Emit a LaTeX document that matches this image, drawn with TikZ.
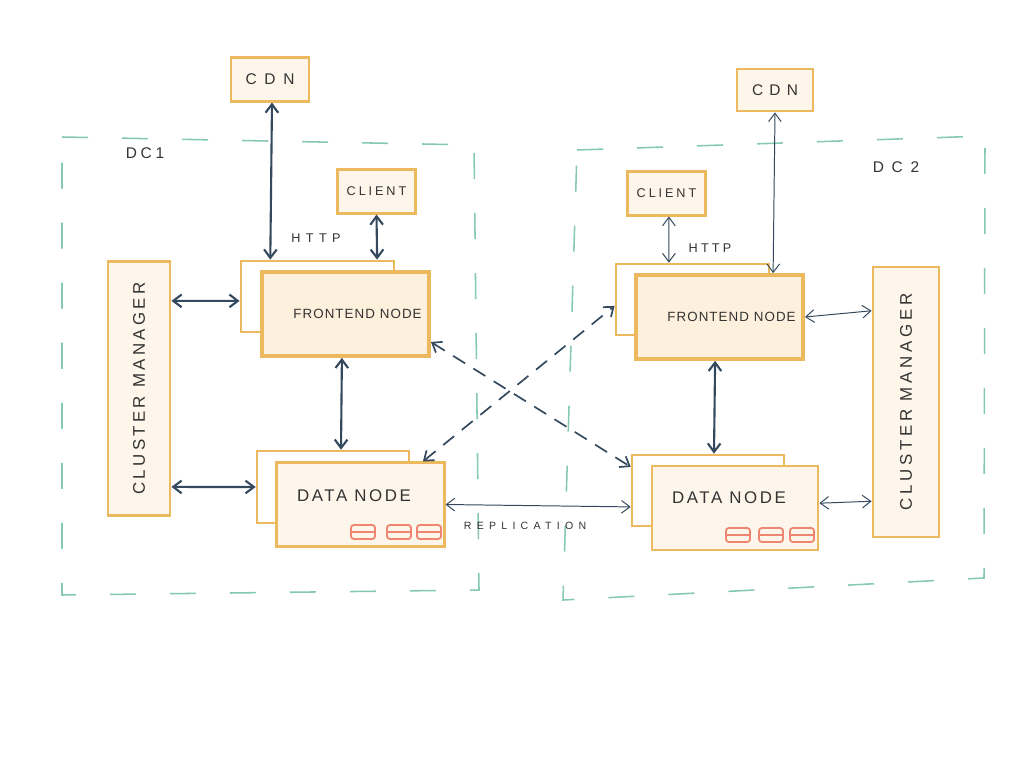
\documentclass[tikz,border=0pt]{standalone}
\usepackage{fontspec}
\setmainfont{Liberation Sans}
\usetikzlibrary{arrows.meta}
\definecolor{boxline}{HTML}{EDB95E}
\definecolor{boxfill}{HTML}{FEF6EA}
\definecolor{frontfill}{HTML}{FDF0DC}
\definecolor{dcline}{HTML}{84C8B5}
\definecolor{linkcol}{HTML}{34495E}
\definecolor{diskcol}{HTML}{EE8672}
\definecolor{labelcol}{HTML}{333333}
\newcommand{\spaced}[3]{{\fontsize{#1}{#1}\selectfont\addfontfeatures{LetterSpace=#2}#3}}
\tikzset{
    box/.style={draw=boxline, line width=2pt, fill=boxfill, text=labelcol, inner sep=0pt},
    backbox/.style={draw=boxline, line width=1.8pt, fill=white, inner sep=0pt},
    frontbox/.style={box, line width=2.6pt, fill=frontfill},
    databox/.style={box, fill=boxfill},
    dcarea/.style={draw=dcline, line width=1.1pt, dash pattern=on .65cm off .85cm},
    link/.style={draw=linkcol, line width=.7pt, {Straight Barb[length=6pt,width=9pt]}-{Straight Barb[length=6pt,width=9pt]}},
    thicklink/.style={link, line width=1.5pt},
    dashlink/.style={link, line width=1.2pt, dash pattern=on 10pt off 7pt},
    disk/.style={draw=diskcol, line width=1.3pt, rounded corners=2pt},
    caption/.style={text=labelcol},
}
\begin{document}
\begin{tikzpicture}[x=0.025cm, y=-0.025cm]
\useasboundingbox[fill=white] (0,0) rectangle (1024,768);

% data centres
\draw[dcarea] (62,137) -- (474,145) -- (479,590) -- (62,595) -- cycle;
\draw[dcarea] (577,150) -- (985,136) -- (984,578) -- (563,600) -- cycle;
\node[caption] (dc1) at (145,153) {\spaced{11}{24}{DC1}};
\node[caption] (dc2) at (896,167) {\spaced{11}{50}{DC2}};

% left side
\node[box, minimum width=1.95cm, minimum height=1.08cm] (cdn1) at (270,79.5) {\spaced{11}{50}{CDN}};
\node[box, minimum width=1.93cm, minimum height=1.08cm] (client1) at (376.5,191.5) {\spaced{9}{23}{CLIENT}};
\node[box, rotate=90, minimum width=6.33cm, minimum height=1.55cm] (cm1) at (139,388.5) {\spaced{12}{20}{CLUSTER MANAGER}\hspace{.3cm}};
\node[backbox, minimum width=3.83cm, minimum height=1.78cm] (fback1) at (317.5,296.5) {};
\node[frontbox, minimum width=4.18cm, minimum height=2.1cm] (front1) at (345.5,314) {\hspace{.6cm}\spaced{9.5}{8}{FRONTEND NODE}};
\node[backbox, minimum width=3.8cm, minimum height=1.8cm] (dback1) at (333,487) {};
\node[databox, minimum width=4.18cm, minimum height=2.08cm] (data1) at (360.5,504.5) {};
\node[caption] (dlabel1) at (354,496) {\spaced{12}{15}{DATA NODE}};

% right side
\node[box, minimum width=1.9cm, minimum height=1.05cm] (cdn2) at (775,90) {\spaced{11}{40}{CDN}};
\node[box, minimum width=1.93cm, minimum height=1.08cm] (client2) at (666.5,193.5) {\spaced{9}{23}{CLIENT}};
\node[box, rotate=90, minimum width=6.75cm, minimum height=1.65cm] (cm2) at (906,402) {\spaced{12}{22}{CLUSTER MANAGER}\hspace{.3cm}};
\node[backbox, minimum width=3.83cm, minimum height=1.78cm] (fback2) at (692.5,299.5) {};
\node[frontbox, minimum width=4.18cm, minimum height=2.1cm] (front2) at (719.5,317) {\hspace{.6cm}\spaced{9.5}{8}{FRONTEND NODE}};
\node[backbox, minimum width=3.8cm, minimum height=1.78cm] (dback2) at (708,490.5) {};
\node[databox, minimum width=4.15cm, minimum height=2.1cm] (data2) at (735,508) {};
\node[caption] (dlabel2) at (729,498) {\spaced{12}{15}{DATA NODE}};

% disks
\foreach \x/\y in {363/532, 399/532, 429/532, 738/535, 771/535, 802/535} {
    \draw[disk] (\x-12,\y-7) rectangle (\x+12,\y+7);
    \draw[disk] (\x-12,\y) -- (\x+12,\y);
}

% connectors
\draw[thicklink] ([xshift=.05cm]cdn1.south) -- ([xshift=-1.18cm]fback1.north);
\draw[thicklink] (client1.south) -- ([xshift=1.49cm]fback1.north);
\draw[thicklink] ([yshift=2.19cm]cm1.south) -- ([yshift=-.11cm]fback1.west);
\draw[thicklink] ([yshift=-2.46cm]cm1.south) -- (dback1.west);
\draw[thicklink] ([xshift=-.09cm]front1.south) -- ([xshift=.2cm]dback1.north);
\draw[dashlink] ([yshift=-.7cm]front1.east) -- ([yshift=.59cm]dback2.west);
\draw[dashlink] ([xshift=1.56cm]data1.north) -- ([yshift=-.16cm]fback2.west);
\draw[link] (data1.east) -- ([yshift=-.41cm]dback2.west);
\draw[link] ([yshift=.12cm]data2.east) -- ([yshift=-2.48cm]cm2.north);
\draw[link] (front2.east) -- ([yshift=2.28cm]cm2.north);
\draw[thicklink] ([xshift=-.11cm]front2.south) -- ([xshift=.15cm]dback2.north);
\draw[link] ([xshift=.06cm]client2.south) -- ([xshift=-.59cm]fback2.north);
\draw[link] (cdn2.south) -- ([xshift=1.34cm]front2.north);

\node[caption] (http1) at (316,238) {\spaced{9}{43}{HTTP}};
\node[caption] (http2) at (710,248) {\spaced{9}{25}{HTTP}};
\node[caption] (repl) at (525,526) {\spaced{7.5}{50}{REPLICATION}};
\end{tikzpicture}
\end{document}
